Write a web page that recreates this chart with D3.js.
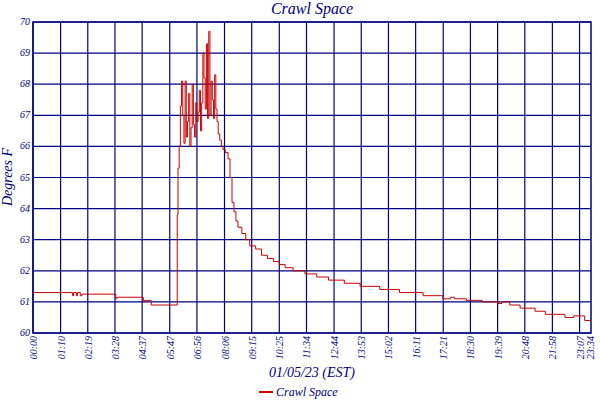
<!DOCTYPE html>
<html><head><meta charset="utf-8">
<script src="https://cdn.jsdelivr.net/npm/d3@7"></script>
<style>body{margin:0;background:#fff}text{font-family:"Liberation Serif",serif;font-style:italic;fill:#000080}</style>
</head><body><svg id="c" width="600" height="400"></svg>
<script>
const tickLabels=["00:00","01:10","02:19","03:28","04:37","05:47","06:56","08:06","09:15","10:25","11:34","12:44","13:53","15:02","16:11","17:21","18:30","19:39","20:48","21:58","23:07","23:34"];
const yTicks=[60,61,62,63,64,65,66,67,68,69,70];
const times=[0,100,103,110,113,120,124,210,213,280,283,300,366,368,371,374,377,380,383,386,389,392,395,398,401,404,407,410,413,416,419,422,425,428,431,434,437,440,443,446,449,452,455,458,461,464,467,470,474,478,482,488,495,500,505,510,515,520,530,540,550,565,580,595,610,625,640,660,690,720,750,790,830,880,930,990,1040,1060,1070,1100,1140,1180,1190,1210,1236,1274,1300,1350,1372,1400,1416];
const temps=[61.3,61.2,61.3,61.2,61.3,61.2,61.25,61.1,61.15,61.0,61.05,60.9,63.8,65.3,66.0,67.3,68.1,67.0,66.1,68.1,66.3,66.8,67.7,66.0,66.6,68.0,66.7,66.3,67.4,66.8,67.1,67.8,66.5,67.4,69.0,68.2,67.2,69.3,66.9,69.7,67.0,68.1,67.5,66.9,68.3,67.2,66.8,66.4,66.2,66.0,65.9,65.8,65.6,65.0,64.2,63.9,63.6,63.4,63.2,63.0,62.8,62.7,62.5,62.4,62.3,62.2,62.1,62.0,61.9,61.8,61.7,61.6,61.5,61.4,61.3,61.2,61.1,61.15,61.1,61.05,61.0,60.95,61.0,60.9,60.8,60.7,60.6,60.5,60.55,60.4,60.4];
const svg=d3.select("#c");
const L=33,R=591,T=22,B=333;
const tickMins=tickLabels.map(s=>{const[h,m]=s.split(":");return +h*60+ +m;});
const x=d3.scaleLinear().domain([0,1416]).range([L,R]);
const y=d3.scaleLinear().domain([60,70]).range([B,T]);
const g=svg.append("g");
tickMins.slice(0,-1).forEach(m=>g.append("line").attr("x1",x(m)).attr("x2",x(m)).attr("y1",T).attr("y2",B).attr("stroke","#000080").attr("stroke-width",1.2));
yTicks.forEach(v=>g.append("line").attr("x1",L).attr("x2",R).attr("y1",y(v)).attr("y2",y(v)).attr("stroke","#000080").attr("stroke-width",1.2));
g.append("rect").attr("x",L).attr("y",T).attr("width",R-L).attr("height",B-T).attr("fill","none").attr("stroke","#000080").attr("stroke-width",1.5);
const line=d3.line().x((d,i)=>x(times[i])).y(d=>y(d)).curve(d3.curveStepAfter);
svg.append("path").attr("d",line(temps)).attr("fill","none").attr("stroke","#cc0000").attr("stroke-width",1);
yTicks.forEach(v=>svg.append("text").attr("x",L-3).attr("y",y(v)+3).attr("text-anchor","end").attr("font-size",10).text(v));
tickLabels.forEach((s,i)=>svg.append("text").attr("transform",`translate(${x(tickMins[i])+4},${B+3}) rotate(-90)`).attr("text-anchor","end").attr("font-size",10).text(s));
svg.append("text").attr("x",312).attr("y",14).attr("text-anchor","middle").attr("font-size",16).text("Crawl Space");
svg.append("text").attr("x",312).attr("y",377).attr("text-anchor","middle").attr("font-size",14).text("01/05/23 (EST)");
svg.append("text").attr("transform","translate(12,177) rotate(-90)").attr("text-anchor","middle").attr("font-size",14).text("Degrees F");
svg.append("line").attr("x1",259).attr("x2",273).attr("y1",392).attr("y2",392).attr("stroke","#cc0000").attr("stroke-width",2);
svg.append("text").attr("x",276).attr("y",396).attr("font-size",12).text("Crawl Space");
</script></body></html>
